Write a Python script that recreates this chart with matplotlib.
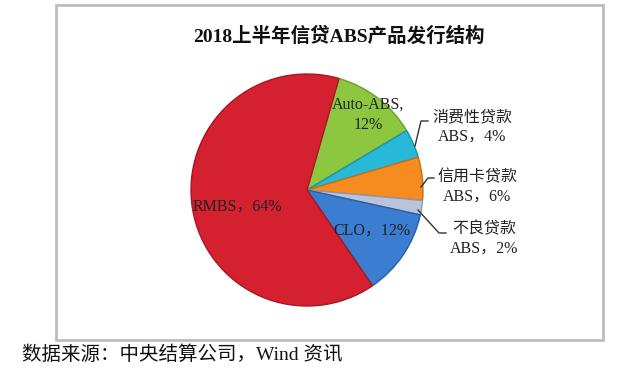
import matplotlib
matplotlib.use('Agg')
import matplotlib.pyplot as plt
from matplotlib.patches import Rectangle

plt.rcParams['font.family'] = ['Liberation Serif', 'Noto Sans CJK SC', 'DejaVu Sans']

# data, clockwise from the top
names = ['Auto-ABS', '消费性贷款ABS', '信用卡贷款ABS', '不良贷款ABS', 'CLO', 'RMBS']
shares = [12, 4, 6, 2, 12, 64]
colors = ['#8DC63F', '#27B9D7', '#F68B1F', '#B9C3D9', '#3A7DD1', '#D5202F']
edges = ['#6E9E2E', '#1D93AC', '#C96F14', '#8E99B0', '#2A5FA6', '#A51824']

W, H = 641, 377
fig = plt.figure(figsize=(W / 100, H / 100), dpi=100)

# the pie in its own axes (y upward)
pax = fig.add_axes([(307 - 116) / W, 1 - (190 + 116) / H, 232 / W, 232 / H])
wedges, _ = pax.pie(shares, colors=colors, startangle=74, counterclock=False,
                    radius=1.0, wedgeprops=dict(linewidth=1.0))
for w, e in zip(wedges, edges):
    w.set_edgecolor(e)
pax.set_xlim(-1, 1)
pax.set_ylim(-1, 1)
pax.set_aspect('equal')
pax.axis('off')

# overlay in pixel coords for frame and text
ax = fig.add_axes([0, 0, 1, 1])
ax.set_zorder(3)
ax.set_xlim(0, W)
ax.set_ylim(H, 0)
ax.axis('off')

ax.add_patch(Rectangle((56, 5), 547, 335, fill=False, ec='#BDBDBD', lw=2))

ax.text(339, 36, '2018上半年信贷ABS产品发行结构', ha='center', va='center',
        fontsize=14, fontweight='bold', color='#111111')

lab = dict(fontsize=11.5, color='#222222', linespacing=1.35)
ax.text(368, 115, 'Auto-ABS,\n12%', ha='center', va='center', **lab)
ax.text(472, 127, '消费性贷款\nABS，4%', ha='center', va='center', **lab)
ax.text(477, 187, '信用卡贷款\nABS，6%', ha='center', va='center', **lab)
ax.text(484, 239, '不良贷款\nABS，2%', ha='center', va='center', **lab)
ax.text(372, 231, 'CLO，12%', ha='center', va='center', **lab)
ax.text(237, 207, 'RMBS，64%', ha='center', va='center', **lab)

# leader lines
ln = dict(color='#333333', lw=1)
ax.plot([415, 421, 428], [146, 121, 121], **ln)
ax.plot([421, 428, 434], [187, 178, 178], **ln)
ax.plot([418, 439, 446], [210, 233, 233], **ln)

ax.text(22, 355, '数据来源：中央结算公司，Wind 资讯', ha='left', va='center',
        fontsize=14, color='#111111')

fig.savefig('out.png', dpi=100)
